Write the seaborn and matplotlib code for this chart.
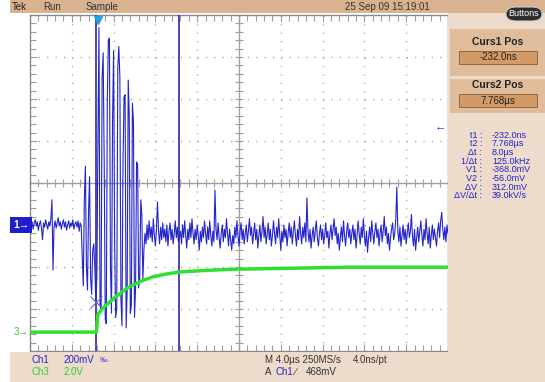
import numpy as np
import matplotlib
matplotlib.use("Agg")
import matplotlib.pyplot as plt
import matplotlib.transforms as mtransforms
from matplotlib.patches import Rectangle, FancyBboxPatch
import seaborn as sns

# ---------------------------------------------------------------
# Data
# ---------------------------------------------------------------
# Ch1 (200 mV/div), one value every 0.1 us starting at -6.5 us
ch1_t_start = -6.5
ch1_t_step = 0.1
ch1_pre = [
    -40, -10, 15, -20, 10, 25, -5, 15, -25, 5, 20, -15, -70, 10, -10, 25, 0, -20, 15, -5,
    30, 120, -215, -10, 20, -15, 10, 35, -5, 15, -20, 5, 25, -10, 15, -25, 0, 20, -15, 10,
    -5, 25, -20, 5, 15, -10, 20, -30, 10, -5,
]
ch1_burst = [
    -150, -290, 120, 280, -200, -310, 60, 230, -250, -330, -120, -90, -200, -368, -250,
    400, 940, -380, -410, 700, 820, 300, -450, -470, 600, 880, 890, -200, -420, 500, 830,
    -100, -440, -400, 750, 850, 700, -350, -480, 300, 610, 620, -490, -300, 690, 520, -420,
    -380, 580, 490, -440, -300, 300, 290, -300, -250, 120, 50, -260,
]
ch1_post = [
    -120, -40, -90, 0, -70, 20, -60, -10, -80, 30, -50, -100, -20, 110, -30, -90, -10, -70, 10, -60,
    -20, -80, 0, -100, -30, 10, -70, -20, -90, -40, 20, -60, -10, -80, -56, -30, -90, 0, -60, 20,
    -50, -110, -20, -70, 10, -60, 30, -40, -90, -20, -70, 0, -50, -120, -30, -80, -10, -60, 20, -40,
    -90, -10, -70, 20, -50, -100, -30, -80, 167, -20, -70, 10, -60, -110, -40, 0, -80, -20, -60, 30,
    -40, -100, -20, -70, -120, -50, -90, -10, -60, 20, -50, -100, -30, 10, -70, -20, -90, -40, 0, -80,
    -30, 30, -50, -10, -90, -40, 10, -70, -20, -110, -50, 0, -80, -30, 40, -60, -10, -90, -40, 10,
    -70, -20, -100, -50, 20, -40, -90, -10, -60, 30, -50, -120, -30, -80, 0, -60, -20, -100, -40, 10,
    -60, -10, -90, -30, 20, -50, -100, -20, -70, 40, -40, -90, -10, -60, 10, -80, 129, -30, -80, -20,
    -110, -50, -10, -80, -30, 20, -60, -100, -40, 0, -70, -20, -90, -50, 10, -60, -30, -110, -40, 0,
    -70, -20, 30, -50, -10, -90, -40, -120, -60, -10, -80, 20, -50, -100, -30, 10, -60, -20, -90, -40,
    0, -70, -20, -110, -50, 20, -40, -90, -10, -60, 30, -50, -100, -30, -130, -60, -10, -80, 20, -40,
    -90, -30, 10, -60, -20, -100, -40, 0, -80, -30, 40, -50, -10, -90, -40, -120, -60, -20, 10, -70,
    -40, 20, 180, -30, -80, -10, -100, -50, 0, -70, -20, -90, -40, 10, -60, -30, 50, -50, -100, -20,
    -120, -60, -10, -80, -30, 20, -50, -100, -20, -70, 30, -40, -90, -10, -110, -50, 0, -70, -20, -60,
    -100, -30, 10, -60, 20, 60, -20, -70, -10, -80, 0, -40,
]

# Ch3 (2.0 V/div)
ch3_t = [-6.5, -0.15, 0.0, 0.5, 1.5, 2.8, 4.0, 5.3, 6.6, 7.8, 10.0, 12.6, 18.4, 24.0, 33.5]
ch3_v = [0.0, 0.0, 0.85, 1.15, 1.6, 2.1, 2.4, 2.64, 2.77, 2.86, 2.93, 2.99, 3.04, 3.09, 3.09]

# cursors
t1, t2 = -0.232, 7.768
v1, v2 = -368.0, -56.0
trig_level = 468.0

readout_labels = ["t1 :", "t2 :", "\u0394t :", "1/\u0394t :", "V1 :", "V2 :", "\u0394V :", "\u0394V/\u0394t :"]
readout_values = ["-232.0ns", "7.768\u00b5s", "8.0\u00b5s", "125.0kHz", "-368.0mV", "-56.0mV", "312.0mV", "39.0kV/s"]

# ---------------------------------------------------------------
sns.set_theme(style="white")
plt.rcParams['font.family'] = ['Liberation Sans', 'DejaVu Sans']

W, H = 545, 382
fig = plt.figure(figsize=(W / 100, H / 100), dpi=100)
fig.patch.set_facecolor("white")

TAN_BAR = "#d9b390"
TAN_LIGHT = "#eddccb"
TAN_BLOCK = "#dfbd9c"
TAN_VALUE = "#d29a66"
BLUE = "#2424cc"
GREEN = "#30e030"
GRID = "#a0a0a0"


def fig_rect(x0, y0, x1, y1, **kw):
    fig.patches.append(Rectangle((x0 / W, 1 - y1 / H), (x1 - x0) / W, (y1 - y0) / H,
                                 transform=fig.transFigure, **kw))


def ftext(x, y, s, **kw):
    kw.setdefault("va", "center")
    kw.setdefault("fontsize", 6.5)
    fig.text(x / W, 1 - y / H, s, **kw)


# panels
fig_rect(10, 0, 545, 13, color=TAN_BAR, lw=0)
fig_rect(448, 13, 545, 382, color=TAN_LIGHT, lw=0)
fig_rect(10, 352, 545, 382, color=TAN_LIGHT, lw=0)
fig_rect(450, 29, 545, 76, color=TAN_BLOCK, lw=0)
fig_rect(450, 79, 545, 113, color=TAN_BLOCK, lw=0)
fig_rect(459, 51, 537, 64, facecolor=TAN_VALUE, edgecolor="#8a5a30", lw=0.6)
fig_rect(459, 94, 537, 107, facecolor=TAN_VALUE, edgecolor="#8a5a30", lw=0.6)

fig.patches.append(FancyBboxPatch((506 / W, 1 - 21 / H), 36 / W, 14 / H,
                                  boxstyle="round,pad=0,rounding_size=0.018",
                                  transform=fig.transFigure, facecolor="#2e2e2e",
                                  edgecolor="#cccccc", lw=0.8))

# top bar text
ftext(12, 6.5, "Tek", fontsize=7, color="#222")
ftext(43, 6.5, "Run", fontsize=7, color="#333")
ftext(86, 6.5, "Sample", fontsize=7, color="#333")
ftext(345, 6.5, "25 Sep 09 15:19:01", fontsize=7, color="#333")
ftext(524, 14, "Buttons", fontsize=6.5, color="white", ha="center")

# right panel
ftext(498, 42, "Curs1 Pos", fontsize=7.5, fontweight="bold", color="#222", ha="center")
ftext(498, 57.5, "-232.0ns", fontsize=7, color="#222", ha="center")
ftext(498, 85, "Curs2 Pos", fontsize=7.5, fontweight="bold", color="#222", ha="center")
ftext(498, 100.5, "7.768\u00b5s", fontsize=7, color="#222", ha="center")
for k, (lab, val) in enumerate(zip(readout_labels, readout_values)):
    yy = 135 + k * 8.7
    ftext(482, yy, lab, color=BLUE, ha="right")
    ftext(492, yy, val, color=BLUE, ha="left")

# bottom panel
ftext(31, 360, "Ch1", color=BLUE, fontsize=7)
ftext(64, 360, "200mV", color=BLUE, fontsize=7)
ftext(100, 360, "\u2030", color=BLUE, fontsize=5.5)
ftext(31, 372, "Ch3", color="#33cc33", fontsize=7)
ftext(64, 372, "2.0V", color="#33cc33", fontsize=7)
ftext(265, 360, "M 4.0\u00b5s 250MS/s", color="#333", fontsize=7)
ftext(353, 360, "4.0ns/pt", color="#333", fontsize=7)
ftext(265, 372, "A", color="#333", fontsize=7)
ftext(275, 372, "Ch1", color=BLUE, fontsize=7)
ftext(295, 372, "\u2215", color="#333", fontsize=7)
ftext(306, 372, "468mV", color="#333", fontsize=7)

# ---------------------------------------------------------------
# graticule
# ---------------------------------------------------------------
ax = fig.add_axes([30 / W, 1 - 351 / H, 418 / W, 336 / H])
ax.set_facecolor("white")
ax.set_xlim(-6.5, 33.5)
ax.set_ylim(-600, 1000)

xmaj = -6.5 + 4 * np.arange(11)
xmin = -6.5 + 0.8 * np.arange(51)
ymaj = -600 + 200 * np.arange(9)
ymin = -600 + 40 * np.arange(41)
ax.set_xticks(xmaj)
ax.set_xticks(xmin, minor=True)
ax.set_yticks(ymaj)
ax.set_yticks(ymin, minor=True)
ax.tick_params(which="both", direction="in", top=True, right=True, bottom=True, left=True,
               labelbottom=False, labelleft=False, color=GRID, width=0.8)
ax.tick_params(which="major", length=5)
ax.tick_params(which="minor", length=4)
ax.grid(True, which="major", color=GRID, lw=1.0, linestyle=(0, (0.8, 5.22)))
for sp in ax.spines.values():
    sp.set_color("#8a8a8a")
    sp.set_linewidth(1.0)

# centre cross with ticks
secx = ax.secondary_xaxis(0.5)
secx.set_xticks(xmin)
secx.tick_params(direction="inout", length=6, color=GRID, labelbottom=False, labeltop=False, width=0.8)
secy = ax.secondary_yaxis(0.5)
secy.set_yticks(ymin)
secy.tick_params(direction="inout", length=6, color=GRID, labelleft=False, labelright=False, width=0.8)
for sec in (secx, secy):
    for sp in sec.spines.values():
        sp.set_color(GRID)
        sp.set_linewidth(1.0)

# Ch3 axis
ax3 = ax.twinx()
ax3.set_ylim(-0.9, 15.1)
ax3.set_yticks([])
ax3.grid(False)
for sp in ax3.spines.values():
    sp.set_visible(False)

ch1_mv = ch1_pre + ch1_burst + ch1_post
ch1_t = ch1_t_start + ch1_t_step * np.arange(len(ch1_mv))
sns.lineplot(x=ch3_t, y=ch3_v, ax=ax3, color=GREEN, lw=2.5, zorder=2)
sns.lineplot(x=ch1_t, y=ch1_mv, ax=ax, color=BLUE, lw=0.8, zorder=3)
ax.set_xlabel("")
ax.set_ylabel("")
ax3.set_ylabel("")

# cursors
for tc in (t1, t2):
    ax.axvline(tc, color="#2a2aa0", lw=1.2, zorder=5)
ax.plot([t1], [v1], marker="x", ms=9, mew=0.8, color="#6666cc", zorder=6)

# markers
bl = mtransforms.blended_transform_factory(ax.transAxes, ax.transData)
bl3 = mtransforms.blended_transform_factory(ax3.transAxes, ax3.transData)
ax.text(-0.002, 0, "1\u2192", transform=bl, ha="right", va="center", color="white",
        fontsize=7.5, fontweight="bold",
        bbox=dict(boxstyle="square,pad=0.25", fc="#1e1ecc", ec="none"), clip_on=False)
ax3.text(-0.004, 0, "3\u2192", transform=bl3, ha="right", va="center", color="#33cc33",
         fontsize=7, clip_on=False)
ax.text(0.995, trig_level, "\u2190", transform=bl, ha="right", va="center", color=BLUE, fontsize=8)
top = mtransforms.blended_transform_factory(ax.transData, ax.transAxes)
ax.plot([0], [0.985], marker="v", ms=6, color="#2a9be8", transform=top, clip_on=False, zorder=7)

fig.savefig("out.png", dpi=100, facecolor=fig.get_facecolor())
